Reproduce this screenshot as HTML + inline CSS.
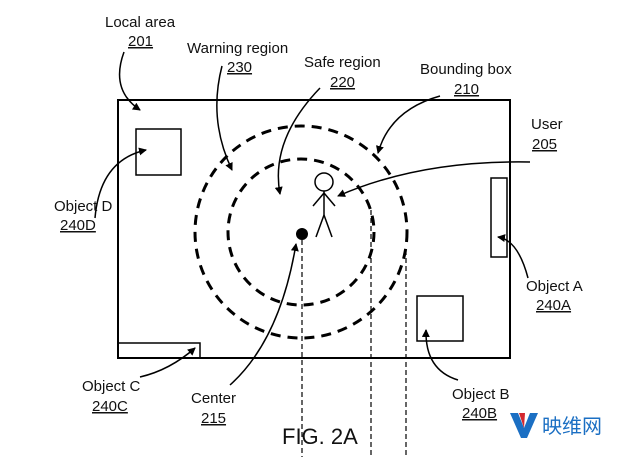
<!DOCTYPE html>
<html><head><style>
body{margin:0;background:#fff;}
svg text{font-family:"Liberation Sans",Arial,sans-serif;font-size:15px;fill:#111;}
</style></head><body>
<svg width="640" height="457" viewBox="0 0 640 457" xmlns="http://www.w3.org/2000/svg">
<defs><marker id="a" markerWidth="8" markerHeight="8" refX="7" refY="4" orient="auto" markerUnits="userSpaceOnUse"><path d="M0,0 L8,4 L0,8 Z" fill="#000"/></marker></defs>
<g fill="none" stroke="#000" stroke-width="2">
<rect x="118" y="100" width="392" height="258"/>
<rect x="136" y="129" width="45" height="46" stroke-width="1.5"/>
<rect x="491" y="178" width="16" height="79" stroke-width="1.5"/>
<rect x="417" y="296" width="46" height="45" stroke-width="1.5"/>
<rect x="118" y="343" width="82" height="15" stroke-width="1.5"/>
<circle cx="301" cy="232" r="73" stroke-width="3" stroke-dasharray="10,7"/>
<circle cx="301" cy="232" r="106" stroke-width="3" stroke-dasharray="10,7"/>
</g>
<g stroke="#000" stroke-width="1.2" stroke-dasharray="5,3">
<line x1="302" y1="240" x2="302" y2="457"/>
<line x1="371" y1="210" x2="371" y2="457"/>
<line x1="406" y1="250" x2="406" y2="457"/>
</g>
<circle cx="302" cy="234" r="6" fill="#000"/>
<g fill="none" stroke="#000" stroke-width="1.5">
<circle cx="324" cy="182" r="9" fill="#fff"/>
<line x1="324" y1="191" x2="324" y2="215"/>
<line x1="313" y1="206" x2="324" y2="193"/><line x1="335" y1="206" x2="324" y2="193"/>
<line x1="324" y1="215" x2="316" y2="237"/><line x1="324" y1="215" x2="332" y2="237"/>
</g>
<g fill="none" stroke="#000" stroke-width="1.5" marker-end="url(#a)">
<path d="M124,52 Q110,90 140,110"/>
<path d="M222,66 Q208,120 232,170"/>
<path d="M320,88 Q270,140 280,194"/>
<path d="M440,96 Q390,110 378,153"/>
<path d="M530,162 Q420,160 338,196"/>
<path d="M95,218 Q100,160 146,150"/>
<path d="M528,278 Q518,240 498,237"/>
<path d="M458,380 Q425,370 426,330"/>
<path d="M140,377 Q170,370 195,348"/>
<path d="M230,385 Q280,340 296,244"/>
</g>
<text x="105" y="27">Local area</text><text x="128" y="46" text-decoration="underline">201</text>
<text x="187" y="53">Warning region</text><text x="227" y="72" text-decoration="underline">230</text>
<text x="304" y="67">Safe region</text><text x="330" y="87" text-decoration="underline">220</text>
<text x="420" y="74">Bounding box</text><text x="454" y="94" text-decoration="underline">210</text>
<text x="531" y="129">User</text><text x="532" y="149" text-decoration="underline">205</text>
<text x="54" y="211">Object D</text><text x="60" y="230" text-decoration="underline">240D</text>
<text x="526" y="291">Object A</text><text x="536" y="310" text-decoration="underline">240A</text>
<text x="82" y="391">Object C</text><text x="92" y="411" text-decoration="underline">240C</text>
<text x="191" y="403">Center</text><text x="201" y="423" text-decoration="underline">215</text>
<text x="452" y="399">Object B</text><text x="462" y="418" text-decoration="underline">240B</text>
<text x="282" y="444" style="font-size:22px">FIG. 2A</text>
<path d="M510,413 L518,413 L524,428 L530,413 L538,413 L527,438 L521,438 Z" fill="#1b6fc3"/>
<path d="M519,413 L525,413 L524,428 Z" fill="#d3282f"/>
<text x="542" y="433" style="font-size:20px;fill:#1b6fc3;font-family:'Noto Sans CJK SC',sans-serif">映维网</text>
</svg>
</body></html>
